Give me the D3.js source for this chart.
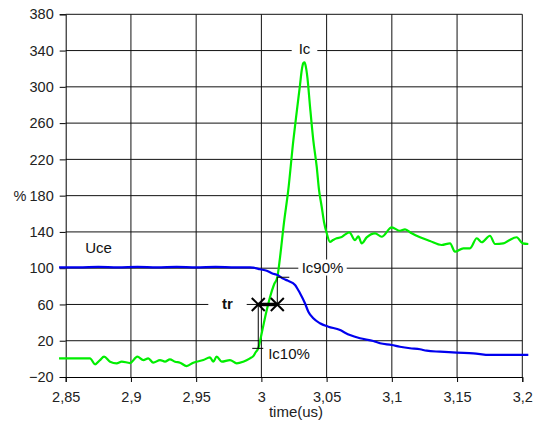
<!DOCTYPE html>
<html><head><meta charset="utf-8">
<script src="https://cdn.jsdelivr.net/npm/d3@7/dist/d3.min.js"></script>
<style>body{margin:0;background:#fff}svg{display:block}text{font-family:"Liberation Sans",Arial,sans-serif}</style>
</head><body><svg id="c" width="539" height="423"></svg>
<script>
const xTicks = [2.85, 2.9, 2.95, 3.0, 3.05, 3.1, 3.15, 3.2];
const yTicks = [-20, 20, 60, 100, 140, 180, 220, 260, 300, 340, 380];
const icTime = [2.8449,2.8686,2.8725,2.8763,2.8794,2.8840,2.8891,2.8929,2.8993,2.9049,2.9095,2.9133,2.9171,2.9223,2.9261,2.9299,2.9338,2.9376,2.9427,2.9478,2.9555,2.9606,2.9631,2.9657,2.9696,2.9759,2.9811,2.9861,2.9913,2.9938,2.9955,2.9976,3.0005,3.0035,3.0066,3.0097,3.0122,3.0143,3.0173,3.0206,3.0245,3.0273,3.0296,3.0309,3.0321,3.0331,3.0341,3.0353,3.0373,3.0398,3.0424,3.0442,3.0462,3.0480,3.0501,3.0526,3.0549,3.0577,3.0610,3.0640,3.0674,3.0718,3.0743,3.0769,3.0807,3.0871,3.0922,3.0999,3.1062,3.1101,3.1152,3.1216,3.1292,3.1382,3.1446,3.1484,3.1548,3.1599,3.1651,3.1689,3.1752,3.1791,3.1854,3.1893,3.1957,3.2003,3.2046];
const icValues = [0.6,0.6,-6,-1.3,2.4,-3.1,-4.9,-3,-4.6,2.4,-1.3,0.6,-4.2,-1.3,-3.1,-0.5,-3.1,-4.2,-7.9,-4.2,-1.3,1.7,-3.1,2.4,-3.1,-1.3,-4.9,-3.1,0.6,3,7,11.6,30,50,68,82,90,112,150,186,241,275,302,318,326,327,322,310,278,241,212,186,168,151,138.5,129,131,133,134,137,139.6,131,135,127.4,134,138.5,134.7,145,141.3,142.9,138.5,134.1,130,125.6,127.4,118.2,121.9,121.9,133,128.6,135.8,126.7,127.4,130.3,134.1,127.4,126.7];
const uceTime = [2.8449,2.86,2.875,2.89,2.905,2.92,2.935,2.95,2.965,2.98,2.9913,2.9938,2.9990,3.0041,3.0080,3.0130,3.0166,3.0206,3.0258,3.0296,3.0334,3.0360,3.0398,3.0449,3.0513,3.0603,3.0641,3.0679,3.0756,3.0858,3.0909,3.0999,3.1062,3.1139,3.1216,3.1267,3.1369,3.1497,3.1624,3.1752,3.1880,3.2046];
const uceValues = [101,101,101.5,101,101.5,101,101.5,101,101.5,101,101,100.6,98.8,97.2,94.4,92,88.5,86,81.5,72.3,61.3,52,44.7,39.2,35.5,31.8,28.9,26.3,22.7,19.7,17.2,15.3,13.4,11.7,10.6,9,7.9,6.8,6.1,4.3,4.5,4.5];
const trTimes = [2.9976, 3.0122];
const trLevel = 60;
const ic10 = {t: 2.9976, v: 11.6};
const ic90 = {t: 3.0122, v: 90};

const svg = d3.select("#c");
const L = 65.7, R = 522.3, T = 14.3, B = 377;
const x = d3.scaleLinear().domain([2.85, 3.2]).range([L, R]);
const y = d3.scaleLinear().domain([-20, 380]).range([B, T]);
const fmt = d => d3.format(".2~f")(d).replace(".", ",");

const g = svg.append("g");
g.selectAll(".hg").data(yTicks.slice(1)).join("line")
  .attr("x1", L).attr("x2", R).attr("y1", d => y(d)).attr("y2", d => y(d))
  .attr("stroke", "#111").attr("stroke-width", 1);
g.selectAll(".vg").data(xTicks.slice(1)).join("line")
  .attr("x1", d => x(d)).attr("x2", d => x(d)).attr("y1", T).attr("y2", B)
  .attr("stroke", "#111").attr("stroke-width", 1);

const ax = svg.append("g").attr("transform", `translate(0,${B})`)
  .call(d3.axisBottom(x).tickValues(xTicks).tickFormat(fmt).tickSize(5).tickPadding(10));
const ay = svg.append("g").attr("transform", `translate(${L},0)`)
  .call(d3.axisLeft(y).tickValues(yTicks).tickSize(6).tickPadding(6));
[ax, ay].forEach(a => {
  a.select(".domain").attr("stroke", "#000");
  a.selectAll(".tick line").attr("stroke", "#000");
  a.selectAll("text").attr("font-size", "14.5px").attr("fill", "#222")
    .attr("font-family", "Liberation Sans, Arial, sans-serif");
});

svg.append("text").attr("x", 296).attr("y", 417).attr("text-anchor", "middle")
  .attr("font-size", "15px").attr("fill", "#222").text("time(us)");
svg.append("text").attr("x", 26.5).attr("y", y(180) + 5).attr("text-anchor", "end")
  .attr("font-size", "14.5px").attr("fill", "#222").text("%");

function label(txt, cx, cy, w, bold, bg) {
  if (bg) svg.append("rect").attr("x", cx - w / 2).attr("y", cy - 8).attr("width", w).attr("height", 16).attr("fill", "#fff");
  svg.append("text").attr("x", cx).attr("y", cy + 5.5).attr("text-anchor", "middle")
    .attr("font-size", "15px").attr("font-weight", bold ? "bold" : "normal").attr("fill", "#111").text(txt);
}
label("Ic", 304.5, 48.5, 25.6, false, true);
label("Ic90%", 322.5, 267.5, 48.4, false, true);
label("tr", 227.5, y(trLevel) - 1, 38.4, true, true);

const line = d3.line().curve(d3.curveMonotoneX).x(d => x(d[0])).y(d => y(d[1]));
svg.append("path").datum(d3.zip(icTime, icValues)).attr("d", line)
  .attr("fill", "none").attr("stroke", "#00ee00").attr("stroke-width", 2.2);
svg.append("path").datum(d3.zip(uceTime, uceValues)).attr("d", line)
  .attr("fill", "none").attr("stroke", "#0000ee").attr("stroke-width", 2.2);

const an = svg.append("g").attr("stroke", "#000");
an.append("line").attr("x1", x(ic10.t)).attr("x2", x(ic10.t)).attr("y1", y(ic10.v)).attr("y2", y(trLevel)).attr("stroke-width", 1);
an.append("line").attr("x1", x(ic10.t) - 6).attr("x2", x(ic10.t) + 5).attr("y1", y(ic10.v)).attr("y2", y(ic10.v)).attr("stroke-width", 1);
an.append("line").attr("x1", x(ic90.t)).attr("x2", x(ic90.t)).attr("y1", y(ic90.v)).attr("y2", y(trLevel)).attr("stroke-width", 1);
an.append("line").attr("x1", x(ic90.t)).attr("x2", x(ic90.t) + 12).attr("y1", y(ic90.v)).attr("y2", y(ic90.v)).attr("stroke-width", 1);
an.append("line").attr("x1", x(trTimes[0])).attr("x2", x(trTimes[1])).attr("y1", y(trLevel)).attr("y2", y(trLevel)).attr("stroke-width", 3.5);
trTimes.forEach(t => {
  const cx = x(t), cy = y(trLevel), s = 6.5;
  an.append("line").attr("x1", cx - s).attr("y1", cy - s).attr("x2", cx + s).attr("y2", cy + s).attr("stroke-width", 2);
  an.append("line").attr("x1", cx - s).attr("y1", cy + s).attr("x2", cx + s).attr("y2", cy - s).attr("stroke-width", 2);
});

label("Ic10%", 289, 353, 44, false, false);
label("Uce", 98.5, 247.5, 30, false, false);
</script></body></html>
